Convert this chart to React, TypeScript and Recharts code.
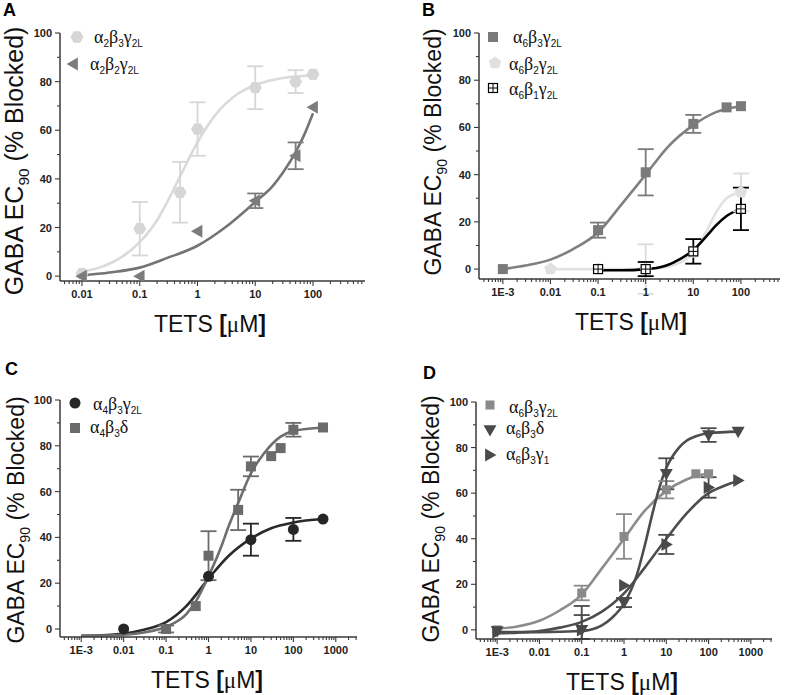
import React from 'react';
import { ComposedChart, XAxis, YAxis, Line, Scatter, ErrorBar } from 'recharts';

const SANS = '"Liberation Sans", Arial, Helvetica, sans-serif';
const SERIF = '"Liberation Serif", "Times New Roman", serif';
const AXIS = '#3a3a3a';

type Pt = { x: number; y: number; err?: number | number[] };

// ---------------- shared tick labels ----------------
const yTickValues = [0, 20, 40, 60, 80, 100];
const yTickLabels = ['0', '20', '40', '60', '80', '100'];
const yMinorValues = [10, 30, 50, 70, 90];

// ---------------- Panel A ----------------
const aXTickValues = [0.01, 0.1, 1, 10, 100];
const aXTickLabels = ['0.01', '0.1', '1', '10', '100'];
const aNames = ['α2β3γ2L', 'α2β2γ2L'];
const aA2B3G2L: Pt[] = [
  { x: 0.01, y: 1 }, { x: 0.1, y: 19.5, err: 11 }, { x: 0.5, y: 34.5, err: 12.5 },
  { x: 1, y: 60.5, err: 11 }, { x: 10, y: 77.5, err: 8.8 }, { x: 50, y: 80, err: 4.7 }, { x: 100, y: 83 },
];
const aA2B2G2L: Pt[] = [
  { x: 0.01, y: 0 }, { x: 0.1, y: 0 }, { x: 1, y: 18.5 }, { x: 10, y: 31, err: 3 },
  { x: 50, y: 49.5, err: 5.5 }, { x: 100, y: 69.5 },
];
const aFitA2B3G2L: Pt[] = [
  { x: 0.01, y: 1.8 }, { x: 0.02, y: 3.5 }, { x: 0.05, y: 8 }, { x: 0.1, y: 14 }, { x: 0.2, y: 23 },
  { x: 0.3, y: 30.5 }, { x: 0.5, y: 41 }, { x: 1, y: 55 }, { x: 2, y: 66 }, { x: 5, y: 75 },
  { x: 10, y: 78.5 }, { x: 30, y: 81.5 }, { x: 100, y: 82.5 },
];
const aFitA2B2G2L: Pt[] = [
  { x: 0.01, y: 0.3 }, { x: 0.03, y: 1.5 }, { x: 0.1, y: 3.5 }, { x: 0.3, y: 7.5 }, { x: 1, y: 12.5 },
  { x: 3, y: 20 }, { x: 10, y: 30.5 }, { x: 20, y: 37 }, { x: 30, y: 42.5 }, { x: 50, y: 51 },
  { x: 70, y: 58 }, { x: 100, y: 67 },
];

// ---------------- Panel B ----------------
const bXTickValues = [0.001, 0.01, 0.1, 1, 10, 100];
const bXTickLabels = ['1E-3', '0.01', '0.1', '1', '10', '100'];
const bNames = ['α6β3γ2L', 'α6β2γ2L', 'α6β1γ2L'];
const bA6B3G2L: Pt[] = [
  { x: 0.001, y: 0 }, { x: 0.1, y: 16.5, err: 3.2 }, { x: 1, y: 41, err: 9.8 },
  { x: 10, y: 61.5, err: 3.8 }, { x: 50, y: 68.5 }, { x: 100, y: 69 },
];
const bA6B2G2L: Pt[] = [
  { x: 0.01, y: 0 }, { x: 0.1, y: 0 }, { x: 1, y: 0, err: 10.5 }, { x: 10, y: 7 }, { x: 100, y: 32.5, err: 8 },
];
const bA6B1G2L: Pt[] = [
  { x: 0.1, y: 0 }, { x: 1, y: 0, err: 3 }, { x: 10, y: 7.5, err: 5.2 }, { x: 100, y: 25.5, err: 9 },
];
const bFitA6B3G2L: Pt[] = [
  { x: 0.001, y: 0 }, { x: 0.003, y: 1.5 }, { x: 0.01, y: 4 }, { x: 0.03, y: 8.5 }, { x: 0.1, y: 15.5 },
  { x: 0.3, y: 27 }, { x: 1, y: 40 }, { x: 3, y: 52 }, { x: 10, y: 61 }, { x: 30, y: 66.5 }, { x: 100, y: 69 },
];
const bFitA6B2G2L: Pt[] = [
  { x: 0.01, y: 0 }, { x: 0.1, y: 0 }, { x: 1, y: 0 }, { x: 2, y: 0.5 }, { x: 3, y: 1 }, { x: 5, y: 2.5 },
  { x: 10, y: 7 }, { x: 20, y: 17 }, { x: 30, y: 24 }, { x: 50, y: 30 }, { x: 100, y: 32.5 },
];
const bFitA6B1G2L: Pt[] = [
  { x: 0.1, y: -0.5 }, { x: 0.3, y: -0.5 }, { x: 1, y: 0 }, { x: 2, y: 0.8 }, { x: 3, y: 1.8 }, { x: 5, y: 4 },
  { x: 10, y: 8 }, { x: 20, y: 14.5 }, { x: 30, y: 18.5 }, { x: 50, y: 22.5 }, { x: 100, y: 25.5 },
];

// ---------------- Panel C ----------------
const cXTickValues = [0.001, 0.01, 0.1, 1, 10, 100, 1000];
const cXTickLabels = ['1E-3', '0.01', '0.1', '1', '10', '100', '1000'];
const cNames = ['α4β3γ2L', 'α4β3δ'];
const cA4B3G2L: Pt[] = [
  { x: 0.01, y: 0 }, { x: 1, y: 23 }, { x: 10, y: 39, err: 7 }, { x: 100, y: 43.5, err: 5 }, { x: 500, y: 48 },
];
const cA4B3D: Pt[] = [
  { x: 0.1, y: 0, err: 1.5 }, { x: 0.5, y: 10 }, { x: 1, y: 32, err: 10.7 }, { x: 5, y: 52, err: 8.8 },
  { x: 10, y: 71, err: 4.3 }, { x: 30, y: 75.5 }, { x: 50, y: 79 }, { x: 100, y: 87, err: 3 }, { x: 500, y: 88 },
];
const cFitA4B3G2L: Pt[] = [
  { x: 0.001, y: -3 }, { x: 0.003, y: -2.8 }, { x: 0.01, y: -2 }, { x: 0.03, y: -0.3 }, { x: 0.1, y: 3 },
  { x: 0.3, y: 10 }, { x: 1, y: 22 }, { x: 3, y: 32 }, { x: 10, y: 39.5 }, { x: 30, y: 44 },
  { x: 100, y: 46.5 }, { x: 500, y: 48 },
];
const cFitA4B3D: Pt[] = [
  { x: 0.001, y: -3 }, { x: 0.003, y: -2.9 }, { x: 0.01, y: -2.5 }, { x: 0.03, y: -1.5 }, { x: 0.1, y: 1 },
  { x: 0.3, y: 6.5 }, { x: 0.5, y: 12 }, { x: 1, y: 23 }, { x: 2, y: 36 }, { x: 3, y: 45 }, { x: 5, y: 55 },
  { x: 10, y: 68 }, { x: 20, y: 76.5 }, { x: 50, y: 84 }, { x: 100, y: 86.5 }, { x: 500, y: 88 },
];

// ---------------- Panel D ----------------
const dXTickValues = [0.001, 0.01, 0.1, 1, 10, 100, 1000];
const dXTickLabels = ['1E-3', '0.01', '0.1', '1', '10', '100', '1000'];
const dNames = ['α6β3γ2L', 'α6β3δ', 'α6β3γ1'];
const dA6B3G2L: Pt[] = [
  { x: 0.001, y: 0 }, { x: 0.1, y: 16.2, err: 3.2 }, { x: 1, y: 41, err: 9.8 },
  { x: 10, y: 61.5, err: 3.8 }, { x: 50, y: 68.5 }, { x: 100, y: 68.5 },
];
const dA6B3D: Pt[] = [
  { x: 0.001, y: -0.5 }, { x: 0.1, y: 0, err: [4, 6.5] }, { x: 1, y: 12, err: 2 },
  { x: 10, y: 68.5, err: 6.8 }, { x: 100, y: 85.5, err: 3 }, { x: 500, y: 87 },
];
const dA6B3G1: Pt[] = [
  { x: 0.001, y: -1 }, { x: 0.1, y: 0, err: [4, 10.5] }, { x: 1, y: 19.5 },
  { x: 10, y: 37.5, err: 4.2 }, { x: 100, y: 62.5, err: 4.5 }, { x: 500, y: 65.5 },
];
const dFitA6B3G2L: Pt[] = [
  { x: 0.001, y: 0.5 }, { x: 0.003, y: 1.5 }, { x: 0.01, y: 4 }, { x: 0.03, y: 8.5 }, { x: 0.1, y: 15.5 },
  { x: 0.3, y: 27 }, { x: 1, y: 40 }, { x: 3, y: 52 }, { x: 10, y: 61 }, { x: 30, y: 66 }, { x: 50, y: 67.5 },
  { x: 100, y: 68.5 },
];
const dFitA6B3D: Pt[] = [
  { x: 0.001, y: -1 }, { x: 0.01, y: -1 }, { x: 0.1, y: -0.5 }, { x: 0.3, y: 2 }, { x: 0.5, y: 5 },
  { x: 1, y: 11.5 }, { x: 2, y: 24 }, { x: 3, y: 36 }, { x: 5, y: 53 }, { x: 7, y: 63 }, { x: 10, y: 71 },
  { x: 20, y: 80 }, { x: 30, y: 83 }, { x: 50, y: 85 }, { x: 100, y: 86.3 }, { x: 500, y: 87 },
];
const dFitA6B3G1: Pt[] = [
  { x: 0.001, y: -1.5 }, { x: 0.003, y: -1.2 }, { x: 0.01, y: -0.5 }, { x: 0.03, y: 1 }, { x: 0.1, y: 3.5 },
  { x: 0.3, y: 8 }, { x: 1, y: 16 }, { x: 3, y: 27 }, { x: 10, y: 40 }, { x: 30, y: 51 }, { x: 100, y: 60 },
  { x: 300, y: 64 }, { x: 500, y: 65.5 },
];

// ---------------- helpers ----------------
type Kind = 'circle' | 'hex' | 'square' | 'triLeft' | 'triDown' | 'triRight' | 'pent' | 'crossSq';

function polyPts(cx: number, cy: number, r: number, n: number, start: number) {
  const out: string[] = [];
  for (let i = 0; i < n; i++) {
    const a = (start + (360 / n) * i) * Math.PI / 180;
    out.push(`${cx + r * Math.cos(a)},${cy + r * Math.sin(a)}`);
  }
  return out.join(' ');
}

function Marker({ kind, cx, cy, color, size }: { kind: Kind; cx: number; cy: number; color: string; size: number }) {
  const r = size / 2;
  if (cx == null || cy == null || isNaN(cx) || isNaN(cy)) return <g />;
  switch (kind) {
    case 'circle':
      return <circle cx={cx} cy={cy} r={r} fill={color} />;
    case 'hex':
      return <polygon points={polyPts(cx, cy, r, 6, 0)} fill={color} />;
    case 'pent':
      return <polygon points={polyPts(cx, cy, r, 5, -90)} fill={color} />;
    case 'square':
      return <rect x={cx - r} y={cy - r} width={size} height={size} fill={color} />;
    case 'triLeft':
      return <polygon points={`${cx - r},${cy} ${cx + r * 0.75},${cy - r} ${cx + r * 0.75},${cy + r}`} fill={color} />;
    case 'triRight':
      return <polygon points={`${cx + r},${cy} ${cx - r * 0.75},${cy - r} ${cx - r * 0.75},${cy + r}`} fill={color} />;
    case 'triDown':
      return <polygon points={`${cx},${cy + r} ${cx - r},${cy - r * 0.75} ${cx + r},${cy - r * 0.75}`} fill={color} />;
    case 'crossSq':
      return (
        <g>
          <rect x={cx - r} y={cy - r} width={size} height={size} fill="#fff" stroke={color} strokeWidth={1.2} />
          <line x1={cx} x2={cx} y1={cy - r} y2={cy + r} stroke={color} strokeWidth={1} />
          <line x1={cx - r} x2={cx + r} y1={cy} y2={cy} stroke={color} strokeWidth={1} />
        </g>
      );
  }
  return <g />;
}

function logTickValues(lo: number, hi: number) {
  const out: number[] = [];
  for (let e = -5; e <= 4; e++) {
    for (let m = 1; m <= 9; m++) {
      const v = parseFloat((m * Math.pow(10, e)).toPrecision(6));
      if (v >= lo * 1.0001 && v <= hi / 1.0001) out.push(v);
    }
  }
  return out;
}

const makeXTick = (majors: number[], labels: string[]) => (props: any) => {
  const { x, y, payload } = props;
  const v = payload.value;
  const idx = majors.findIndex((m) => Math.abs(Math.log10(m) - Math.log10(v)) < 1e-6);
  const major = idx >= 0;
  return (
    <g>
      <line x1={x} x2={x} y1={y} y2={y + (major ? 5 : 3)} stroke={AXIS} strokeWidth={1.1} />
      {major && (
        <text x={x} y={y + 17} textAnchor="middle" fontFamily={SANS} fontWeight="bold" fontSize={11} fill="#222">
          {labels[idx]}
        </text>
      )}
    </g>
  );
};

const makeYTick = () => (props: any) => {
  const { x, y, payload } = props;
  const v = payload.value;
  const idx = yTickValues.indexOf(v);
  const major = idx >= 0;
  return (
    <g>
      <line x1={x} x2={x - (major ? 5 : 3)} y1={y} y2={y} stroke={AXIS} strokeWidth={1.1} />
      {major && (
        <text x={x - 8} y={y + 4} textAnchor="end" fontFamily={SANS} fontWeight="bold" fontSize={11} fill="#222">
          {yTickLabels[idx]}
        </text>
      )}
    </g>
  );
};

function GreekLabel({ x, y, text }: { x: number; y: number; text: string }) {
  const greek = 'αβγδ';
  const parts: { t: string; sub: boolean }[] = [];
  for (const ch of text) {
    const sub = !greek.includes(ch);
    const last = parts[parts.length - 1];
    if (last && last.sub === sub && sub) last.t += ch;
    else parts.push({ t: ch, sub });
  }
  let shift = 0;
  return (
    <text x={x} y={y} fontFamily={SERIF} fontSize={18} fill="#111">
      {parts.map((p, i) => {
        const target = p.sub ? 4 : 0;
        const dy = target - shift;
        shift = target;
        return p.sub ? (
          <tspan key={i} dy={dy} fontFamily={SANS} fontSize={10}>{p.t}</tspan>
        ) : (
          <tspan key={i} dy={dy}>{p.t}</tspan>
        );
      })}
    </text>
  );
}

type Series = { name: string; kind: Kind; color: string; lineColor: string; size: number; points: Pt[]; fit: Pt[] };
type PanelCfg = {
  letter: string;
  box: { left: number; top: number; width: number; height: number };
  plot: { left: number; top: number; right: number; bottom: number };
  xDomain: [number, number];
  yDomain: [number, number];
  xMajors: number[];
  xLabels: string[];
  series: Series[];
  letterPos: [number, number];
  yTitle: { x: number; y: number; fs: number };
  xTitle: { x: number; y: number; fs: number };
  legend: { mx: number; my: number; tx: number; ty: number }[];
};

const panels: PanelCfg[] = [
  {
    letter: 'A',
    box: { left: 0, top: 0, width: 390, height: 340 },
    plot: { left: 60, top: 33, right: 365, bottom: 281 },
    xDomain: [0.00417, 794],
    yDomain: [-2, 100],
    xMajors: aXTickValues,
    xLabels: aXTickLabels,
    series: [
      { name: aNames[0], kind: 'hex', color: '#d6d6d6', lineColor: '#dadada', size: 13, points: aA2B3G2L, fit: aFitA2B3G2L },
      { name: aNames[1], kind: 'triLeft', color: '#7c7c7c', lineColor: '#747474', size: 13, points: aA2B2G2L, fit: aFitA2B2G2L },
    ],
    letterPos: [3, 16],
    yTitle: { x: 23, y: 161, fs: 25 },
    xTitle: { x: 210, y: 332, fs: 23 },
    legend: [
      { mx: 77, my: 37, tx: 94, ty: 43 },
      { mx: 73, my: 64, tx: 90, ty: 70 },
    ],
  },
  {
    letter: 'B',
    box: { left: 390, top: 0, width: 397, height: 340 },
    plot: { left: 479, top: 33, right: 780, bottom: 279 },
    xDomain: [0.000316, 661],
    yDomain: [-4.2, 100],
    xMajors: bXTickValues,
    xLabels: bXTickLabels,
    series: [
      { name: bNames[0], kind: 'square', color: '#7a7a7a', lineColor: '#808080', size: 10, points: bA6B3G2L, fit: bFitA6B3G2L },
      { name: bNames[1], kind: 'pent', color: '#e0e0e0', lineColor: '#e2e2e2', size: 13, points: bA6B2G2L, fit: bFitA6B2G2L },
      { name: bNames[2], kind: 'crossSq', color: '#000000', lineColor: '#000000', size: 9, points: bA6B1G2L, fit: bFitA6B1G2L },
    ],
    letterPos: [422, 16],
    yTitle: { x: 441, y: 152, fs: 23 },
    xTitle: { x: 631, y: 330, fs: 23 },
    legend: [
      { mx: 493, my: 37, tx: 513, ty: 43 },
      { mx: 495, my: 63, tx: 509, ty: 70 },
      { mx: 493, my: 88, tx: 509, ty: 95 },
    ],
  },
  {
    letter: 'C',
    box: { left: 0, top: 340, width: 390, height: 355 },
    plot: { left: 60, top: 400, right: 357, bottom: 637 },
    xDomain: [0.000316, 3162],
    yDomain: [-3.5, 100],
    xMajors: cXTickValues,
    xLabels: cXTickLabels,
    series: [
      { name: cNames[0], kind: 'circle', color: '#262626', lineColor: '#2a2a2a', size: 11, points: cA4B3G2L, fit: cFitA4B3G2L },
      { name: cNames[1], kind: 'square', color: '#6b6b6b', lineColor: '#6e6e6e', size: 10, points: cA4B3D, fit: cFitA4B3D },
    ],
    letterPos: [5, 375],
    yTitle: { x: 24, y: 520, fs: 23 },
    xTitle: { x: 207, y: 688, fs: 23 },
    legend: [
      { mx: 75, my: 403, tx: 93, ty: 410 },
      { mx: 75, my: 428, tx: 90, ty: 433 },
    ],
  },
  {
    letter: 'D',
    box: { left: 390, top: 340, width: 397, height: 355 },
    plot: { left: 476, top: 402, right: 772, bottom: 639 },
    xDomain: [0.000316, 3162],
    yDomain: [-4, 100],
    xMajors: dXTickValues,
    xLabels: dXTickLabels,
    series: [
      { name: dNames[0], kind: 'square', color: '#8a8a8a', lineColor: '#8c8c8c', size: 9, points: dA6B3G2L, fit: dFitA6B3G2L },
      { name: dNames[1], kind: 'triDown', color: '#4a4a4a', lineColor: '#4d4d4d', size: 13, points: dA6B3D, fit: dFitA6B3D },
      { name: dNames[2], kind: 'triRight', color: '#4a4a4a', lineColor: '#4d4d4d', size: 13, points: dA6B3G1, fit: dFitA6B3G1 },
    ],
    letterPos: [423, 379],
    yTitle: { x: 439, y: 519, fs: 23 },
    xTitle: { x: 622, y: 690, fs: 23 },
    legend: [
      { mx: 490, my: 405, tx: 509, ty: 413 },
      { mx: 490, my: 430, tx: 506, ty: 434 },
      { mx: 490, my: 455, tx: 506, ty: 460 },
    ],
  },
];

const Y_AXIS_W = 40;
const X_AXIS_H = 30;

function Panel({ cfg }: { cfg: PanelCfg }) {
  const { box, plot } = cfg;
  const margin = {
    left: plot.left - box.left - Y_AXIS_W,
    top: plot.top - box.top,
    right: box.left + box.width - plot.right,
    bottom: box.top + box.height - plot.bottom - X_AXIS_H,
  };
  const xTicks = logTickValues(cfg.xDomain[0], cfg.xDomain[1]);
  const yTicks = [...yTickValues, ...yMinorValues].sort((a, b) => a - b);
  return (
    <div style={{ position: 'absolute', left: box.left, top: box.top }}>
      <ComposedChart width={box.width} height={box.height} margin={margin}>
        <XAxis
          dataKey="x"
          type="number"
          scale="log"
          domain={cfg.xDomain}
          allowDataOverflow
          ticks={xTicks}
          interval={0}
          tick={makeXTick(cfg.xMajors, cfg.xLabels)}
          tickLine={false}
          tickSize={0}
          tickMargin={0}
          height={X_AXIS_H}
          axisLine={{ stroke: AXIS, strokeWidth: 1.5 }}
        />
        <YAxis
          type="number"
          domain={cfg.yDomain}
          allowDataOverflow
          ticks={yTicks}
          interval={0}
          tick={makeYTick()}
          tickLine={false}
          tickSize={0}
          tickMargin={0}
          width={Y_AXIS_W}
          axisLine={{ stroke: AXIS, strokeWidth: 1.5 }}
        />
        {cfg.series.map((s) => (
          <Line
            key={'l' + s.name}
            data={s.fit}
            dataKey="y"
            type="monotone"
            stroke={s.lineColor}
            strokeWidth={2.6}
            dot={false}
            activeDot={false}
            isAnimationActive={false}
          />
        ))}
        {cfg.series.map((s) => (
          <Scatter
            key={'s' + s.name}
            data={s.points}
            dataKey="y"
            isAnimationActive={false}
            shape={(p: any) => <Marker kind={s.kind} cx={p.cx} cy={p.cy} color={s.color} size={s.size} />}
          >
            <ErrorBar dataKey="err" direction="y" width={8} stroke={s.color === '#e0e0e0' ? '#dcdcdc' : s.color} strokeWidth={1.8} />
          </Scatter>
        ))}
      </ComposedChart>
    </div>
  );
}

function Overlay() {
  return (
    <svg width={787} height={695} style={{ position: 'absolute', left: 0, top: 0, pointerEvents: 'none' }}>
      {panels.map((cfg) => (
        <g key={cfg.letter}>
          <text x={cfg.letterPos[0]} y={cfg.letterPos[1]} fontFamily={SANS} fontWeight="bold" fontSize={18} fill="#000">
            {cfg.letter}
          </text>
          <text
            transform={`translate(${cfg.yTitle.x},${cfg.yTitle.y}) rotate(-90)`}
            textAnchor="middle"
            fontFamily={SANS}
            fontSize={cfg.yTitle.fs}
            fill="#111"
          >
            GABA EC
            <tspan fontSize={cfg.yTitle.fs * 0.62} dy={cfg.yTitle.fs * 0.25}>90</tspan>
            <tspan dy={-cfg.yTitle.fs * 0.25}> (% Blocked)</tspan>
          </text>
          <text x={cfg.xTitle.x} y={cfg.xTitle.y} textAnchor="middle" fontFamily={SANS} fontSize={cfg.xTitle.fs} fill="#111">
            TETS <tspan fontWeight="bold">[</tspan>
            <tspan fontFamily={SERIF}>μ</tspan>M<tspan fontWeight="bold">]</tspan>
          </text>
          {cfg.series.map((s, i) => {
            const L = cfg.legend[i];
            return (
              <g key={s.name}>
                <Marker kind={s.kind} cx={L.mx} cy={L.my} color={s.color} size={s.size} />
                <GreekLabel x={L.tx} y={L.ty} text={s.name} />
              </g>
            );
          })}
        </g>
      ))}
    </svg>
  );
}

export default function App() {
  return (
    <div style={{ position: 'absolute', left: 0, top: 0, width: 787, height: 695, background: '#fff', overflow: 'hidden' }}>
      {panels.map((cfg) => (
        <Panel key={cfg.letter} cfg={cfg} />
      ))}
      <Overlay />
    </div>
  );
}
